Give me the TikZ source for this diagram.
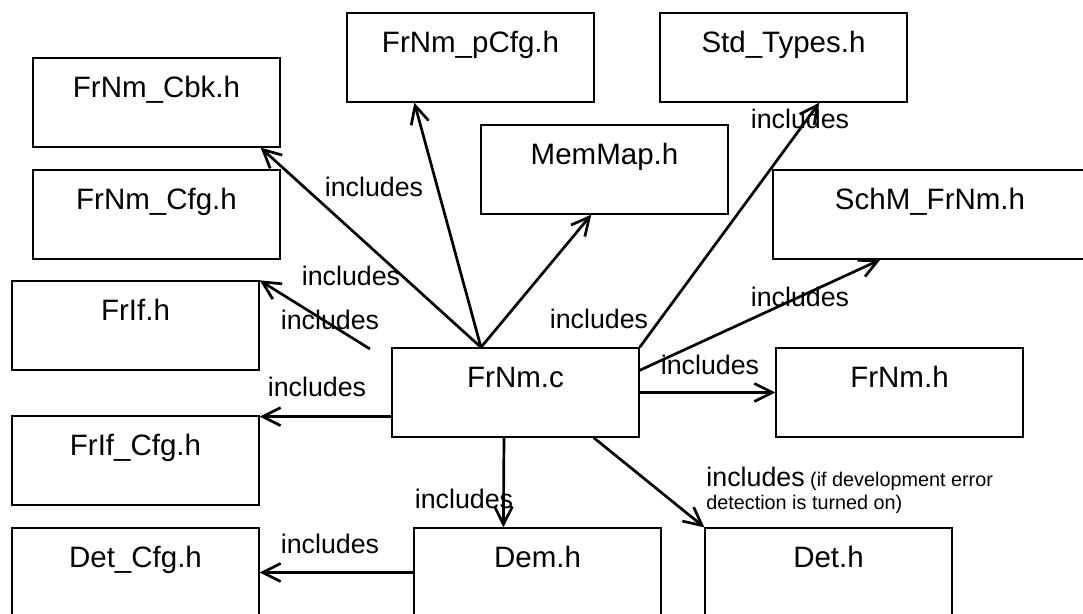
\documentclass[tikz,border=0pt]{standalone}
\usepackage{fontspec}
\setmainfont{Liberation Sans}
\usetikzlibrary{calc,arrows.meta}

\begin{document}
\begin{tikzpicture}[x=0.5pt, y=-0.5pt,
  file/.style={draw, line width=0.65pt, minimum width=123.5pt, minimum height=44.5pt,
    inner sep=0pt, text height=11pt, text depth=16pt, font=\fontsize{14.75}{17}\selectfont},
  inc/.style={inner sep=0pt, font=\fontsize{13.4}{16}\selectfont},
  dep/.style={line width=1.35pt, -{Straight Barb[length=9pt,width=9pt]}}]

\useasboundingbox (0,0) rectangle (1083,614);

\node[file] (cbk) at (156.5,102.5) {FrNm\_Cbk.h};
\node[file] (cfg) at (156.5,214.5) {FrNm\_Cfg.h};
\node[file] (frif) at (135.5,325.5) {FrIf.h};
\node[file] (frifcfg) at (135.5,460.5) {FrIf\_Cfg.h};
\node[file] (detcfg) at (135.5,572.5) {Det\_Cfg.h};
\node[file] (pcfg) at (470.5,57.5) {FrNm\_pCfg.h};
\node[file] (std) at (783.5,57.5) {Std\_Types.h};
\node[file] (memmap) at (604.5,169.5) {MemMap.h};
\node[file, minimum width=157pt] (schm) at (930,214.5) {SchM\_FrNm.h};
\node[file] (frnmc) at (515.5,392.5) {FrNm.c};
\node[file] (frnmh) at (899.5,392.5) {FrNm.h};
\node[file] (dem) at (537.5,572.5) {Dem.h};
\node[file] (det) at (828.5,572.5) {Det.h};

\coordinate (C) at ($(frnmc.north)+(-34.5,0)$);
\coordinate (F) at (370,349);
\coordinate (L) at ($(frnmc.south west)+(0,-21)$);

\draw[dep] (C) -- ($(cbk.south east)+(-20,0)$);
\draw[dep] (C) -- ($(pcfg.south west)+(68,0)$);
\draw[dep] (C) -- ($(memmap.south west)+(111,0)$);
\draw[dep] (frnmc.north east) -- ($(std.south west)+(160,0)$);
\draw[dep] ($(frnmc.north east)+(0,23)$) -- ($(schm.south west)+(108,0)$);
\draw[dep] (frnmc.east) -- (frnmh.west);
\draw[dep] (F) -- (frif.north east);
\draw[dep] (L) -- (L -| frifcfg.east);
\draw[dep] ($(frnmc.south)+(-11.5,0)$) -- ($(dem.north west)+(90,0)$);
\draw[dep] ($(frnmc.south east)+(-46,0)$) -- (det.north west);
\draw[dep] (dem.west) -- (detcfg.east);

\node[inc] (inc1) at (374,187) {includes};
\node[inc] (inc2) at (351,276) {includes};
\node[inc] (inc3) at (330,320) {includes};
\node[inc] (inc4) at (317,387) {includes};
\node[inc] (inc5) at (464,499) {includes};
\node[inc] (inc6) at (330,544) {includes};
\node[inc] (inc7) at (599,319) {includes};
\node[inc] (inc8) at (800,297) {includes};
\node[inc] (inc9) at (710,365) {includes};
\node[inc] (inc10) at (800,119) {includes};
\node[inc, anchor=north west, align=left, font=\fontsize{9.9}{11.5}\selectfont] (inc11) at (706,466.5)
  {{\fontsize{13.4}{16}\selectfont includes} (if development error\\detection is turned on)};

\end{tikzpicture}
\end{document}
